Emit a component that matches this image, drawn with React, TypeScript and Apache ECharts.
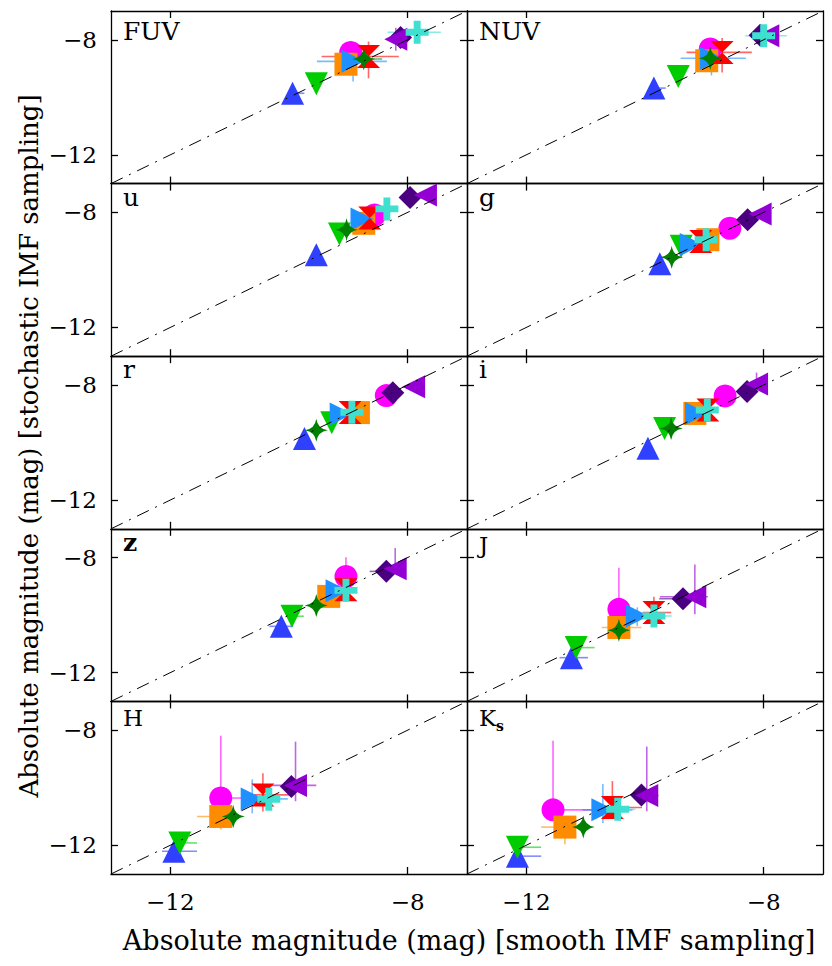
import React, { useEffect, useRef } from 'react';
import * as echarts from 'echarts';

// Band (panel) names, in reading order
const bands = ['FUV', 'NUV', 'u', 'g', 'r', 'i', 'z', 'J', 'H', 'Ks'];

// Sources, in drawing order
const sourceColors = ['#FF00FF', '#FF8C00', '#3040FF', '#00CC00', '#1E90FF', '#FF0000', '#007F00', '#4B0082', '#9400D3', '#40E0D0'];
const errorColors = ['rgba(255,0,255,0.6)', 'rgba(255,140,0,0.6)', 'rgba(48,64,255,0.6)', 'rgba(0,204,0,0.6)', 'rgba(30,144,255,0.6)', 'rgba(255,0,0,0.6)', 'rgba(0,127,0,0.6)', 'rgba(75,0,130,0.6)', 'rgba(148,0,211,0.6)', 'rgba(64,224,208,0.6)'];
const sourceSymbols = [
  'circle',
  'rect',
  'path://M0,-1L1,1L-1,1Z',
  'path://M-1,-1L1,-1L0,1Z',
  'path://M-1,-1L1,0L-1,1Z',
  'path://M-1,-1L1,-1L-1,1L1,1Z',
  'path://M0,-1Q0.12,-0.12 1,0Q0.12,0.12 0,1Q-0.12,0.12 -1,0Q-0.12,-0.12 0,-1Z',
  'diamond',
  'path://M1,-1L-1,0L1,1Z',
  'path://M-0.3,-1L0.3,-1L0.3,-0.3L1,-0.3L1,0.3L0.3,0.3L0.3,1L-0.3,1L-0.3,0.3L-1,0.3L-1,-0.3L-0.3,-0.3Z',
];
const sourceSizes = [23, 23, 23, 23, 23, 23, 23, 23, 23, 23];

// [smooth mag, stochastic mag, xErrLow, xErrHigh, yErrLow, yErrHigh]
const FUV = [
  [-8.96, -8.44, 0, 0, 0.15, 0.33],
  [-9.04, -8.85, 0.15, 0.1, 0.1, 0.1],
  [-9.94, -9.86, 0.05, 0.2, 0, 0],
  [-9.54, -9.53, 0, 0, 0, 0],
  [-8.92, -8.75, 0.61, 0.57, 0.7, 0.41],
  [-8.66, -8.58, 0.79, 0.51, 0.76, 0.52],
  [-8.74, -8.67, 0.39, 0.31, 0.1, 0.1],
  [-8.12, -7.92, 0.1, 0.1, 0.1, 0.1],
  [-8.2, -7.98, 0.1, 0.1, 0.4, 0.4],
  [-7.84, -7.74, 0.5, 0.4, 0.1, 0.1],
];
const NUV = [
  [-8.9, -8.32, 0, 0, 0.1, 0.1],
  [-8.96, -8.73, 0.1, 0.1, 0.1, 0.1],
  [-9.85, -9.68, 0, 0.2, 0, 0],
  [-9.44, -9.28, 0, 0, 0, 0],
  [-8.88, -8.64, 0.52, 0.58, 0.6, 0.35],
  [-8.7, -8.44, 0.6, 0.5, 0.7, 0.5],
  [-8.9, -8.64, 0.1, 0.1, 0.1, 0.1],
  [-8.06, -7.84, 0.1, 0.1, 0.1, 0.1],
  [-7.93, -7.86, 0.1, 0.1, 0.1, 0.1],
  [-8.0, -7.86, 0.31, 0.39, 0.1, 0.3],
];
const U = [
  [-8.56, -8.09, 0, 0, 0, 0],
  [-8.74, -8.38, 0.1, 0.1, 0.2, 0.1],
  [-9.54, -9.47, 0, 0, 0, 0],
  [-9.15, -8.75, 0, 0, 0, 0],
  [-8.77, -8.23, 0.1, 0.1, 0.1, 0.1],
  [-8.64, -8.2, 0.2, 0.2, 0.1, 0.1],
  [-9.03, -8.6, 0, 0, 0, 0],
  [-7.96, -7.48, 0, 0, 0, 0],
  [-7.7, -7.4, 0, 0, 0, 0],
  [-8.35, -7.88, 0, 0, 0, 0],
];
const G = [
  [-8.57, -8.55, 0, 0, 0, 0],
  [-8.94, -8.95, 0, 0, 0, 0],
  [-9.75, -9.79, 0, 0, 0, 0],
  [-9.39, -9.18, 0, 0, 0, 0],
  [-9.22, -9.12, 0, 0, 0, 0],
  [-9.06, -9.01, 0, 0, 0, 0],
  [-9.55, -9.56, 0, 0, 0, 0],
  [-8.27, -8.26, 0, 0, 0, 0],
  [-8.06, -8.06, 0, 0, 0, 0],
  [-8.97, -8.95, 0, 0, 0, 0],
];
const R = [
  [-8.36, -8.37, 0, 0, 0, 0],
  [-8.83, -8.96, 0, 0, 0, 0],
  [-9.74, -9.86, 0, 0, 0, 0],
  [-9.28, -9.31, 0, 0, 0, 0],
  [-9.12, -9.01, 0, 0, 0, 0],
  [-8.97, -8.96, 0, 0, 0, 0],
  [-9.54, -9.57, 0, 0, 0, 0],
  [-8.25, -8.27, 0, 0, 0, 0],
  [-7.9, -8.06, 0, 0, 0, 0],
  [-8.94, -8.95, 0, 0, 0, 0],
];
const I = [
  [-8.65, -8.38, 0, 0, 0, 0],
  [-9.16, -8.99, 0, 0, 0, 0],
  [-9.95, -10.2, 0, 0, 0, 0],
  [-9.67, -9.51, 0, 0, 0, 0],
  [-9.13, -8.99, 0, 0, 0, 0],
  [-8.94, -8.87, 0, 0, 0, 0],
  [-9.56, -9.51, 0, 0, 0, 0],
  [-8.28, -8.23, 0, 0, 0, 0],
  [-8.12, -7.97, 0, 0, 0, 0.4],
  [-8.95, -8.87, 0, 0, 0, 0],
];
const Z = [
  [-9.04, -8.66, 0, 0, 0, 0.67],
  [-9.33, -9.35, 0, 0, 0, 0],
  [-10.13, -10.39, 0.2, 0.2, 0, 0],
  [-9.95, -10.04, 0, 0.2, 0, 0],
  [-9.19, -9.15, 0, 0, 0, 0],
  [-9.04, -9.12, 0, 0, 0, 0],
  [-9.54, -9.67, 0, 0, 0, 0],
  [-8.36, -8.48, 0.28, 0, 0, 0],
  [-8.21, -8.39, 0, 0, 0, 0.72],
  [-9.04, -9.14, 0, 0, 0, 0],
];
const J = [
  [-10.44, -9.8, 0, 0, 0, 1.45],
  [-10.44, -10.43, 0.29, 0.38, 0.1, 0.1],
  [-11.24, -11.48, 0.2, 0.28, 0, 0],
  [-11.16, -11.13, 0, 0.31, 0, 0],
  [-10.13, -10.03, 0.1, 0.1, 0.35, 0.3],
  [-9.85, -9.91, 0.19, 0.29, 0.4, 0.55],
  [-10.44, -10.53, 0, 0, 0, 0],
  [-9.36, -9.43, 0.4, 0, 0, 0],
  [-9.16, -9.36, 0.59, 0.22, 0.61, 1.12],
  [-9.85, -10.03, 0, 0.3, 0, 0],
];
const H = [
  [-11.15, -10.36, 0, 0.44, 0, 2.17],
  [-11.15, -11.0, 0.4, 0.2, 0.45, 0.1],
  [-11.94, -12.21, 0.2, 0.39, 0, 0],
  [-11.84, -11.92, 0, 0.29, 0, 0],
  [-10.62, -10.39, 0.1, 0.6, 0.5, 0.68],
  [-10.44, -10.25, 0.27, 0.5, 0.58, 0.75],
  [-10.94, -11.0, 0, 0, 0, 0],
  [-9.96, -9.96, 0, 0, 0, 0],
  [-9.89, -9.92, 0.48, 0.35, 0.55, 1.52],
  [-10.34, -10.4, 0, 0, 0, 0],
];
const KS = [
  [-11.55, -10.77, 0, 0.67, 0, 2.4],
  [-11.35, -11.37, 0.4, 0, 0.6, 0],
  [-12.15, -12.38, 0, 0.4, 0, 0],
  [-12.15, -12.07, 0, 0.4, 0, 0],
  [-10.71, -10.77, 0.34, 0.5, 0.46, 0.9],
  [-10.55, -10.69, 0.27, 0.5, 0.37, 0.92],
  [-11.04, -11.37, 0, 0, 0, 0],
  [-10.06, -10.25, 0, 0, 0, 0],
  [-9.97, -10.27, 0, 0.2, 0.55, 1.7],
  [-10.46, -10.75, 0, 0.3, 0, 0],
];
const bandData = [FUV, NUV, U, G, R, I, Z, J, H, KS];

const xTicks = [-12, -8];
const yTicks = [-12, -8];
const axisMin = -13;
const axisMax = -7;
const diagonal = [[-13, -13], [-7, -7]];

const xTitle = 'Absolute magnitude (mag) [smooth IMF sampling]';
const yTitle = 'Absolute magnitude (mag) [stochastic IMF sampling]';

const FONT = '"DejaVu Serif", serif';
const fmt = (v: number) => (v < 0 ? '\u2212' + Math.abs(v) : String(v));

function buildOption() {
  const colLeft = [111, 467];
  const W = 356;
  const top0 = 11;
  const RH = 172.6;
  const grids: any[] = [];
  const xAxes: any[] = [];
  const yAxes: any[] = [];
  const series: any[] = [];
  const graphics: any[] = [];
  const axisLine = { show: true, lineStyle: { color: '#000', width: 1.3 } };
  const tickStyle = { color: '#000', width: 1.3 };

  bands.forEach((band, p) => {
    const col = p % 2;
    const row = Math.floor(p / 2);
    const top = top0 + row * RH;
    grids.push({ left: colLeft[col], top, width: W, height: RH, show: false });
    xAxes.push({
      gridIndex: p, type: 'value', min: axisMin, max: axisMax, position: 'bottom',
      axisLine, splitLine: { show: false },
      axisTick: { show: true, inside: true, length: 7, customValues: xTicks, lineStyle: tickStyle },
      axisLabel: { show: row === 4, customValues: xTicks, formatter: fmt, fontFamily: FONT, fontSize: 23, color: '#000', margin: 16 },
    });
    xAxes.push({
      gridIndex: p, type: 'value', min: axisMin, max: axisMax, position: 'top',
      axisLine, splitLine: { show: false },
      axisTick: { show: true, inside: true, length: 7, customValues: xTicks, lineStyle: tickStyle },
      axisLabel: { show: false },
    });
    yAxes.push({
      gridIndex: p, type: 'value', min: axisMin, max: axisMax, position: 'left',
      axisLine, splitLine: { show: false },
      axisTick: { show: true, inside: true, length: 7, customValues: yTicks, lineStyle: tickStyle },
      axisLabel: { show: col === 0, customValues: yTicks, formatter: fmt, fontFamily: FONT, fontSize: 23, color: '#000', margin: 14 },
    });
    yAxes.push({
      gridIndex: p, type: 'value', min: axisMin, max: axisMax, position: 'right',
      axisLine, splitLine: { show: false },
      axisTick: { show: true, inside: true, length: 7, customValues: yTicks, lineStyle: tickStyle },
      axisLabel: { show: false },
    });
    const xi = 2 * p;
    const yi = 2 * p;
    series.push({
      type: 'line', xAxisIndex: xi, yAxisIndex: yi, data: diagonal, showSymbol: false, silent: true,
      lineStyle: { color: '#000', width: 1, type: [13, 7, 2, 7] },
    });
    bandData[p].forEach((d, s) => {
      const ec = errorColors[s];
      series.push({
        type: 'custom', xAxisIndex: xi, yAxisIndex: yi, data: [d], encode: { x: 0, y: 1 }, silent: true,
        renderItem: (params: any, api: any) => {
          const x = api.value(0), y = api.value(1);
          const exl = api.value(2), exh = api.value(3), eyl = api.value(4), eyh = api.value(5);
          const children: any[] = [];
          if (exl + exh > 0) {
            const a = api.coord([x - exl, y]);
            const b = api.coord([x + exh, y]);
            children.push({ type: 'line', shape: { x1: a[0], y1: a[1], x2: b[0], y2: b[1] }, style: { stroke: ec, lineWidth: 1.6 } });
          }
          if (eyl + eyh > 0) {
            const a = api.coord([x, y - eyl]);
            const b = api.coord([x, y + eyh]);
            children.push({ type: 'line', shape: { x1: a[0], y1: a[1], x2: b[0], y2: b[1] }, style: { stroke: ec, lineWidth: 1.6 } });
          }
          return { type: 'group', children };
        },
      });
      series.push({
        type: 'scatter', xAxisIndex: xi, yAxisIndex: yi, data: [[d[0], d[1]]],
        symbol: sourceSymbols[s], symbolSize: sourceSizes[s],
        itemStyle: { color: sourceColors[s], opacity: 1 },
      });
    });

    const lx = colLeft[col] + 12;
    if (band === 'Ks') {
      graphics.push({ type: 'text', left: lx, top: top + 5, style: { text: 'K', font: `normal 23px ${FONT}`, fill: '#000' } });
      graphics.push({ type: 'text', left: lx + 17, top: top + 18, style: { text: 's', font: `bold 14px ${FONT}`, fill: '#000' } });
    } else {
      const big = band === 'FUV' || band === 'NUV';
      const caps = band === band.toUpperCase();
      const bold = band === 'z';
      const dy = big ? 8 : caps ? 5 : 1;
      const size = big ? 25 : caps ? 23 : 25;
      graphics.push({ type: 'text', left: lx, top: top + dy, style: { text: band, font: `${bold ? 'bold' : 'normal'} ${size}px ${FONT}`, fill: '#000' } });
    }
  });

  graphics.push({ type: 'text', x: 469, y: 940, style: { text: xTitle, font: `normal 27px ${FONT}`, fill: '#000', align: 'center', verticalAlign: 'middle' } });
  graphics.push({ type: 'text', x: 29, y: 446, rotation: Math.PI / 2, style: { text: yTitle, font: `normal 26px ${FONT}`, fill: '#000', align: 'center', verticalAlign: 'middle' } });

  return {
    animation: false,
    backgroundColor: '#fff',
    grid: grids,
    xAxis: xAxes,
    yAxis: yAxes,
    series,
    graphic: graphics,
  };
}

export default function App() {
  const ref = useRef<HTMLDivElement>(null);
  useEffect(() => {
    if (!ref.current) return;
    const chart = echarts.init(ref.current, null, { renderer: 'svg' });
    chart.setOption(buildOption() as any);
    return () => chart.dispose();
  }, []);
  return <div ref={ref} style={{ position: 'absolute', left: 0, top: 0, width: 832, height: 966 }} />;
}
